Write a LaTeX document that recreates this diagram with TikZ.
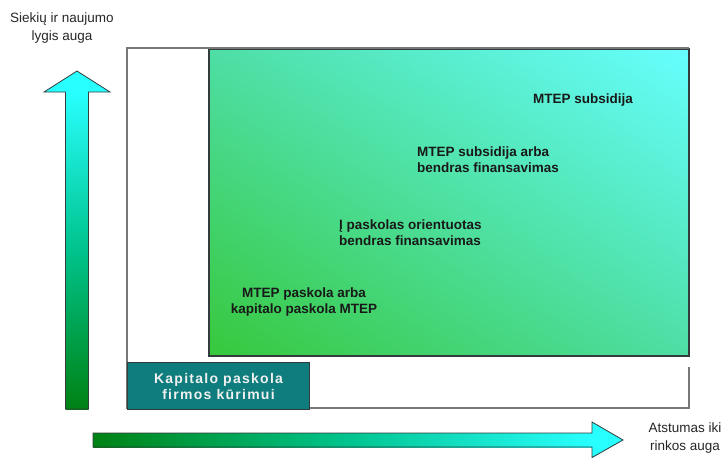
\documentclass[tikz,border=0pt]{standalone}
\usepackage{fontspec}
\usetikzlibrary{shadings}
\setmainfont{Liberation Sans}
\newfontfamily\spacedbold[LetterSpace=9]{Liberation Sans}
\definecolor{cyanA}{RGB}{102,255,255}
\definecolor{cyanB}{RGB}{40,255,255}
\definecolor{greenBL}{RGB}{55,200,60}
\definecolor{midG}{RGB}{78,222,165}
\definecolor{arrowG}{RGB}{0,130,20}
\definecolor{arrowM}{RGB}{0,195,140}
\definecolor{tealbox}{RGB}{15,125,125}
\definecolor{edge}{RGB}{50,60,60}
\definecolor{outer}{RGB}{120,120,120}
\tikzset{
  lbl/.style={font=\fontsize{13.5}{16}\selectfont\bfseries, text=black!90, inner sep=0pt},
  axislbl/.style={font=\fontsize{13.5}{18}\selectfont, text=black!85, inner sep=0pt, align=center},
  arrowline/.style={draw=edge, line width=0.8pt, line join=miter},
}
\begin{document}
\begin{tikzpicture}[x=1pt,y=-1pt]
\useasboundingbox (0,0) rectangle (723,458);
% outer frame
\draw[outer, line width=1.5pt] (689,367) -- (689,408) -- (127,408) -- (127,48) -- (689,48);
% big gradient box
\shade[lower left=greenBL, upper right=cyanA, upper left=midG, lower right=midG]
  (209,49) rectangle (689,356);
\draw[edge, line width=1.5pt] (209,49) rectangle (689,356);
\draw[outer, line width=1.5pt] (127,48) -- (689,48);
\coordinate (gbox) at (449,202);
% teal box
\node[draw=edge, line width=1pt, fill=tealbox, minimum width=182pt, minimum height=47pt,
      inner sep=0pt, anchor=north west] (teal) at (127,362) {};
\node[font=\fontsize{14}{16}\selectfont\spacedbold\bfseries, text=white!88!gray, align=center, inner sep=0pt]
  (tealtxt) at (teal.center) {Kapitalo paskola\\firmos kūrimui};
% texts in gradient box
\node[lbl, anchor=center] (t1) at (583,100) {MTEP subsidija};
\node[lbl, anchor=west, align=left] (t2) at (417,160) {MTEP subsidija arba\\bendras finansavimas};
\node[lbl, anchor=west, align=left] (t3) at (339,233) {Į paskolas orientuotas\\bendras finansavimas};
\node[lbl, anchor=center, align=center] (t4) at (304,302) {MTEP paskola arba\\kapitalo paskola MTEP};
% vertical arrow
\fill[cyanB] (44,92) -- (77,71) -- (110,92) -- cycle;
\shade[top color=cyanB, bottom color=arrowG, middle color=arrowM] (65.5,91.5) rectangle (88.5,409);
\draw[arrowline] (65.5,409) -- (65.5,92) -- (44,92) -- (77,71) -- (110,92) -- (88.5,92) -- (88.5,409) -- cycle;
\coordinate (vtip) at (77,71);
% horizontal arrow
\fill[cyanB] (592,422) -- (623,440) -- (592,458) -- cycle;
\shade[left color=arrowG, right color=cyanB, middle color=arrowM] (93,433) rectangle (592.5,447);
\draw[arrowline] (93,447) -- (93,433) -- (592,433) -- (592,422) -- (623,440) -- (592,457.5) -- (592,447) -- cycle;
\coordinate (htip) at (623,440);
% axis labels
\node[axislbl] (ylab) at (62,28) {Siekių ir naujumo\\lygis auga};
\node[axislbl] (xlab) at (685,438) {Atstumas iki\\rinkos auga};
\end{tikzpicture}
\end{document}
